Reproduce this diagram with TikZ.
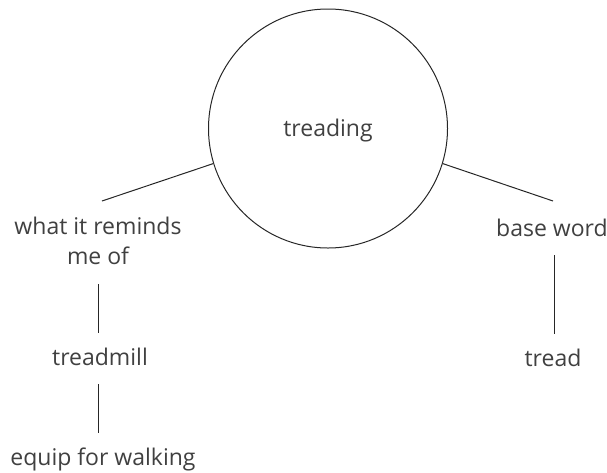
\documentclass[tikz,border=0pt]{standalone}
\usepackage{fontspec}
\setmainfont{Open Sans}
\begin{document}
\begin{tikzpicture}[x=1pt,y=-1pt,
  txt/.style={font=\fontsize{23}{30}\selectfont, text=black!75},
  lbl/.style={txt, inner sep=0pt, text height=32pt, text depth=19pt},
  conn/.style={draw=black!85, line width=1pt}]
\useasboundingbox (0,0) rectangle (607,472);
\node[txt, draw=black!85, line width=1pt, circle, minimum size=239pt, inner sep=0pt, text depth=2pt] (c) at (328,128.5) {treading};
\node[lbl, align=center, anchor=south] (wr) at (98,284) {what it reminds\\me of};
\node[lbl, anchor=base] (tm) at (100,365) {treadmill};
\node[lbl, anchor=base] (eq) at (103,465) {equip for walking};
\node[lbl, anchor=base] (bw) at (552,236) {base word};
\node[lbl, anchor=base] (td) at (553,366) {tread};
\coordinate (wrtop) at (102,201);
\coordinate (bwtop) at (553,201);
\draw[conn] (c.197.6) -- (wrtop);
\draw[conn] (c.-17.6) -- (bwtop);
\draw[conn] (wr.south) -- (wr.south |- tm.north);
\draw[conn] (tm.south -| wr.south) -- (wr.south |- eq.north);
\draw[conn] ([xshift=2pt]bw.south) -- ([xshift=2pt]bw.south |- td.north);
\end{tikzpicture}
\end{document}
